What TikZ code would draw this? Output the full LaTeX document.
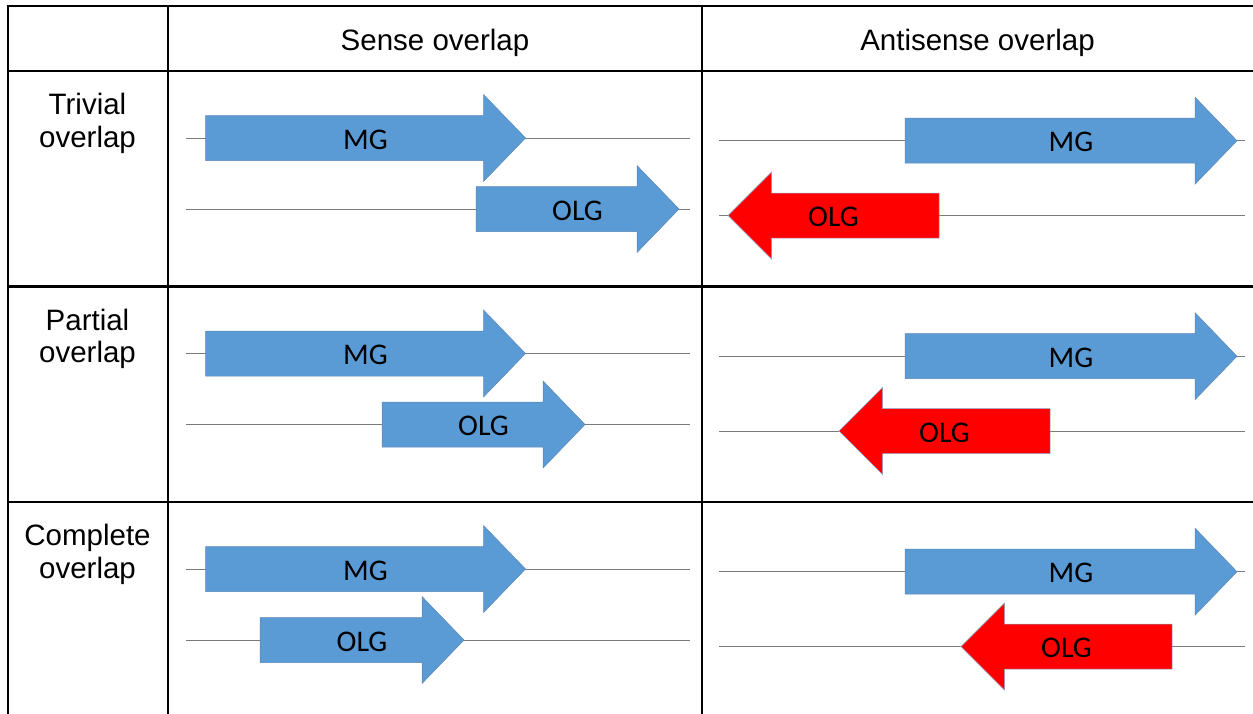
\documentclass[tikz,border=0pt]{standalone}
\usepackage{fontspec}
\setmainfont{Liberation Sans}
\newfontfamily\genefont{Carlito}

\definecolor{geneblue}{HTML}{5B9BD5}
\definecolor{geneedge}{HTML}{5A86B8}
\definecolor{genered}{HTML}{FF0000}
\definecolor{strandgray}{HTML}{7A7A7A}

\tikzset{
  grid/.style={line width=2.7pt, black},
  strand/.style={line width=1pt, strandgray},
  fwd/.style={fill=geneblue, draw=geneedge, line width=0.5pt},
  rev/.style={fill=genered, draw=geneedge!70, line width=0.5pt},
  genelabel/.style={font=\genefont\fontsize{30}{30}\selectfont, inner sep=0pt, yshift=-1.5pt},
  header/.style={font=\fontsize{29.5}{30}\selectfont, inner sep=0pt, anchor=base},
  rowlabel/.style={font=\fontsize{29.5}{30}\selectfont, inner sep=0pt, anchor=base},
}

% strand line: name, x from, x to, y
\newcommand\strandline[4]{%
  \coordinate (#1a) at (#2,#4);
  \coordinate (#1b) at (#3,#4);
  \draw[strand] (#1a) -- (#1b);}

% forward gene: name, left end, tip, y, label
\newcommand\fwdgene[5]{%
  \draw[fwd] (#2,#4-22.5) -- (#3-42,#4-22.5) -- (#3-42,#4-43.5) -- (#3,#4)
    -- (#3-42,#4+43.5) -- (#3-42,#4+22.5) -- (#2,#4+22.5) -- cycle;
  \node[genelabel] (#1) at ({(#2+#3)/2},#4) {#5};}

% reverse gene: name, tip, right end, y, label
\newcommand\revgene[5]{%
  \draw[rev] (#3,#4-22.5) -- (#2+43.5,#4-22.5) -- (#2+43.5,#4-43.5) -- (#2,#4)
    -- (#2+43.5,#4+43.5) -- (#2+43.5,#4+22.5) -- (#3,#4+22.5) -- cycle;
  \node[genelabel] (#1) at ({(#2+#3)/2},#4) {#5};}

\begin{document}
\begin{tikzpicture}[x=1pt, y=-1pt]
  \useasboundingbox (0,0) rectangle (1253,713);

  % table rules
  \draw[grid] (8,716) -- (8,6) -- (1256,6);
  \draw[grid] (168,6) -- (168,716);
  \draw[grid] (702,6) -- (702,716);
  \draw[grid] (8,71) -- (1256,71);
  \draw[grid] (8,286.5) -- (1256,286.5);
  \draw[grid] (8,502) -- (1256,502);

  % column headers
  \node[header] (hsense) at (435,50.7) {Sense overlap};
  \node[header] (hanti) at (977.5,50.7) {Antisense overlap};

  % row headers
  \node[rowlabel] (r1a) at (87.5,114.5) {Trivial};
  \node[rowlabel] (r1b) at (87.5,147) {overlap};
  \node[rowlabel] (r2a) at (87.5,330) {Partial};
  \node[rowlabel] (r2b) at (87.5,362.5) {overlap};
  \node[rowlabel] (r3a) at (87.5,545.5) {Complete};
  \node[rowlabel] (r3b) at (87.5,578) {overlap};

  % strands
  \strandline{s1m}{186}{690}{138}
  \strandline{s1o}{186}{690}{209}
  \strandline{s2m}{186}{690}{353.5}
  \strandline{s2o}{186}{690}{424.5}
  \strandline{s3m}{186}{690}{569}
  \strandline{s3o}{186}{690}{640}
  \strandline{a1m}{719}{1245}{140.7}
  \strandline{a1o}{719}{1245}{215.5}
  \strandline{a2m}{719}{1245}{356.2}
  \strandline{a2o}{719}{1245}{431}
  \strandline{a3m}{719}{1245}{571.7}
  \strandline{a3o}{719}{1245}{646.5}

  % sense overlap genes
  \fwdgene{smg1}{205.5}{525.5}{138}{MG}
  \fwdgene{solg1}{476}{679}{209}{OLG}
  \fwdgene{smg2}{205.5}{525.5}{353.5}{MG}
  \fwdgene{solg2}{382}{585}{424.5}{OLG}
  \fwdgene{smg3}{205.5}{525.5}{569}{MG}
  \fwdgene{solg3}{260}{464}{640}{OLG}

  % antisense overlap genes
  \fwdgene{amg1}{905}{1237}{140.7}{MG}
  \revgene{aolg1}{728}{939}{215.5}{OLG}
  \fwdgene{amg2}{905}{1237}{356.2}{MG}
  \revgene{aolg2}{839}{1050}{431}{OLG}
  \fwdgene{amg3}{905}{1237}{571.7}{MG}
  \revgene{aolg3}{961}{1172}{646.5}{OLG}
\end{tikzpicture}
\end{document}
